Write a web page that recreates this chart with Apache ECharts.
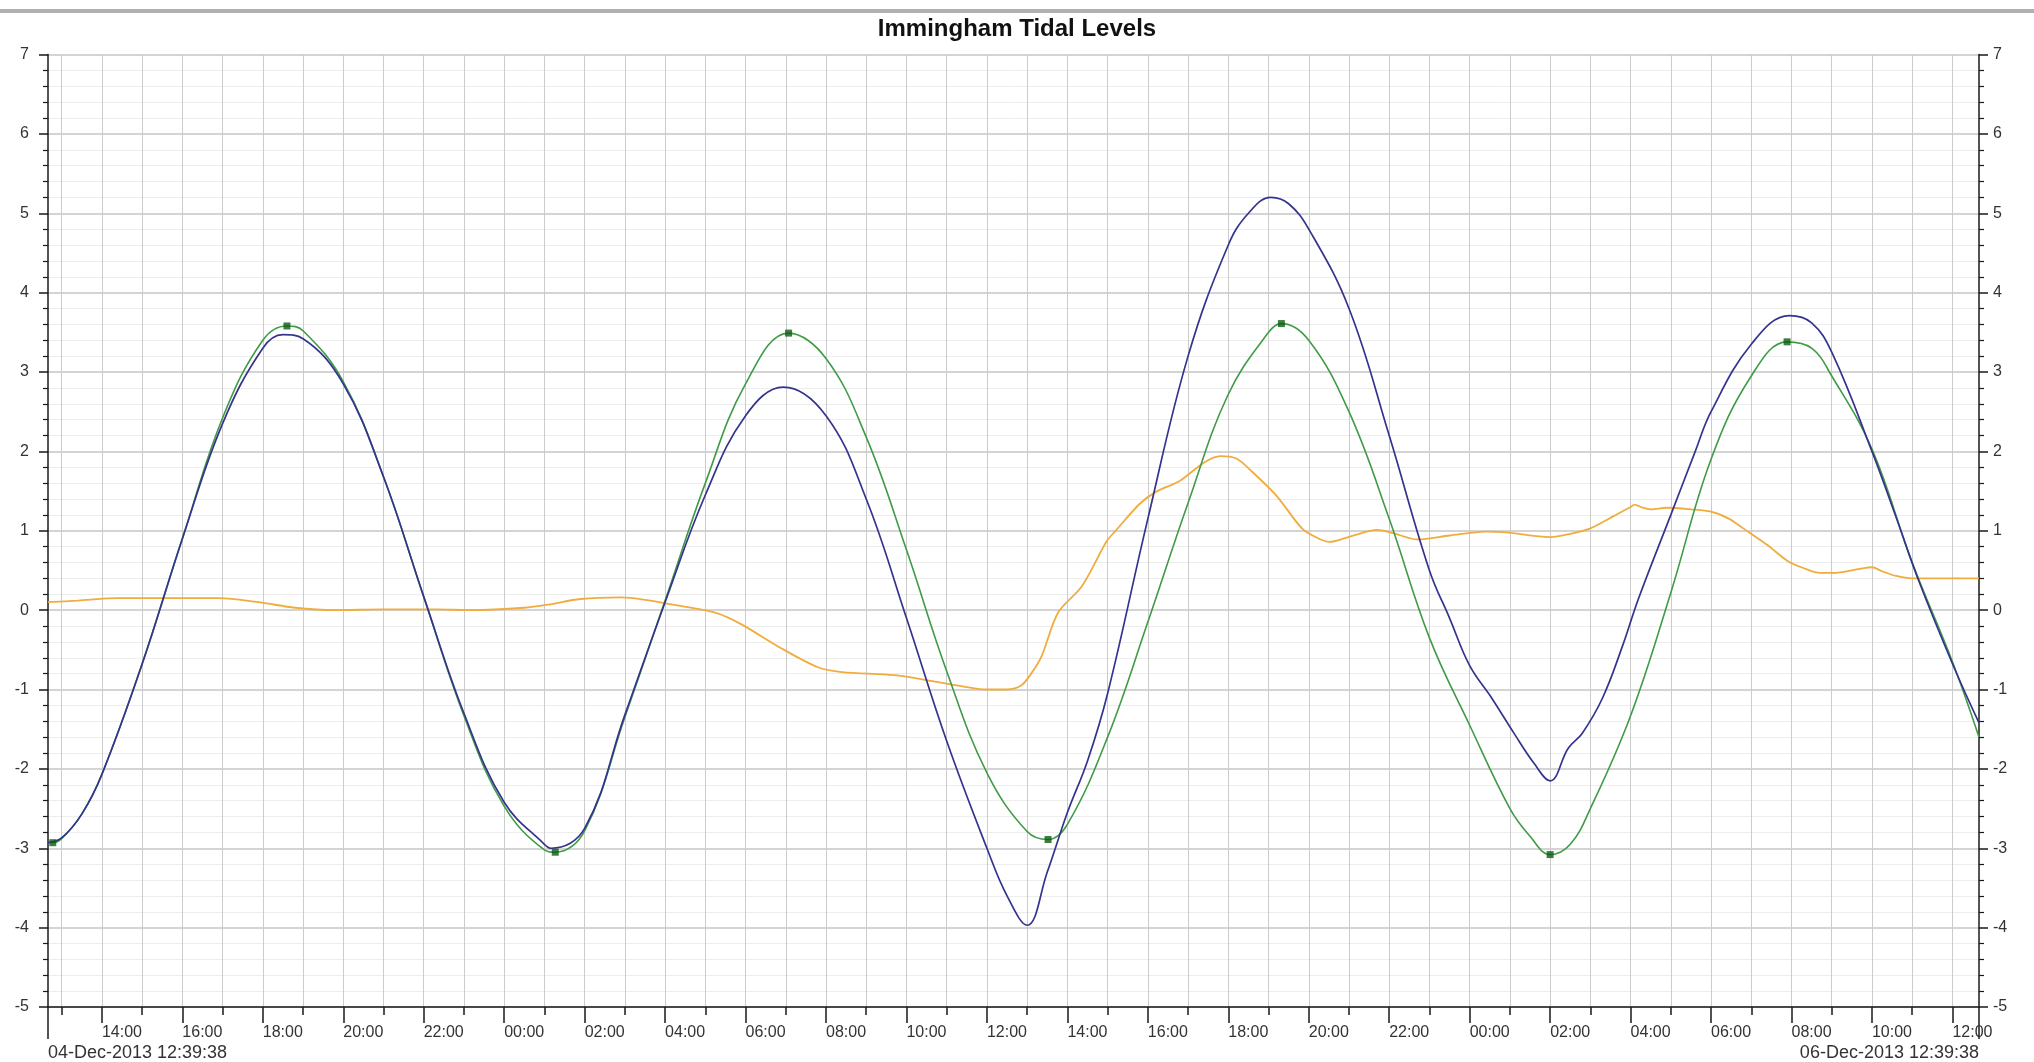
<!DOCTYPE html>
<html>
<head>
<meta charset="utf-8">
<title>Immingham Tidal Levels</title>
<script src="https://cdn.jsdelivr.net/npm/echarts@6/dist/echarts.min.js"></script>
<style>
  html, body { margin: 0; padding: 0; background: #ffffff; }
  #chart { width: 2034px; height: 1062px; }
</style>
</head>
<body>
<div id="chart"></div>
<script>
// Hours counted from 04-Dec-2013 00:00
const startHour = 12.6606;   // 04-Dec-2013 12:39:38
const endHour = 60.6606;     // 06-Dec-2013 12:39:38
const rangeLabels = ['04-Dec-2013 12:39:38', '06-Dec-2013 12:39:38'];
const chartTitle = 'Immingham Tidal Levels';

const gridHours = [13,14,15,16,17,18,19,20,21,22,23,24,25,26,27,28,29,30,31,32,33,34,35,36,
                   37,38,39,40,41,42,43,44,45,46,47,48,49,50,51,52,53,54,55,56,57,58,59,60];
const labelHours = [14,16,18,20,22,24,26,28,30,32,34,36,38,40,42,44,46,48,50,52,54,56,58,60];
const timeLabels = ['14:00','16:00','18:00','20:00','22:00','00:00','02:00','04:00','06:00','08:00',
                    '10:00','12:00','14:00','16:00','18:00','20:00','22:00','00:00','02:00','04:00',
                    '06:00','08:00','10:00','12:00'];

// Predicted tide (green)
const predictedTimes = [12.6606,12.78,13,13.5,14,15,16,17,18,18.6,19,20,21,22,23,24,25,25.27,26,27,28,29,30,31.07,
                        32,33,34,35,36,37,37.52,38,39,40,41,42,43,43.32,44,45,46,47,48,49,49.5,50.0,50.5,
                        51,52,53,54,55,55.89,56.5,57,58,59,60,60.6606];
const predictedLevels = [-2.92,-2.93,-2.88,-2.57,-2.07,-0.68,0.9,2.42,3.4,3.58,3.52,2.88,1.68,0.17,-1.33,-2.47,-3.02,-3.05,
                         -2.78,-1.35,0.12,1.6,2.85,3.49,3.17,2.18,0.76,-0.77,-2.05,-2.79,-2.89,-2.7,-1.6,-0.15,
                         1.35,2.72,3.5,3.61,3.4,2.5,1.15,-0.35,-1.45,-2.5,-2.85,-3.08,-2.95,-2.5,-1.33,0.22,1.9,
                         2.95,3.38,3.3,2.95,2.03,0.6,-0.65,-1.6];

// Observed level (blue)
const observedTimes = [12.6606,13,13.5,14,15,16,17,18,18.5,19,20,21,22,23,24,25,25.17,26,27,28,29,30,30.94,32,33,34,35,
                       36,36.5,37.0,37.5,38,38.5,39,40,41,42,42.5,43.06,43.5,44,45,46,47,47.5,48,48.55,49.1,49.6,
                       50.0,50.45,50.8,51.3,51.8,52.2,53,53.6,54,55,55.95,56.5,57,58,58.6,59.17,60.03,60.6606];
const observedLevels = [-2.93,-2.87,-2.57,-2.07,-0.68,0.9,2.35,3.3,3.47,3.42,2.85,1.68,0.17,-1.3,-2.42,-2.95,-3.0,-2.75,
                        -1.32,0.1,1.45,2.45,2.81,2.45,1.4,-0.1,-1.65,-3.0,-3.6,-3.97,-3.3,-2.55,-1.9,-1.05,1.15,
                        3.2,4.6,5.0,5.2,5.12,4.8,3.8,2.2,0.5,-0.1,-0.7,-1.11,-1.55,-1.93,-2.15,-1.74,-1.55,-1.11,
                        -0.45,0.15,1.2,1.99,2.5,3.35,3.71,3.62,3.25,2.0,1.17,0.36,-0.71,-1.42];

// Surge / residual (orange)
const surgeTimes = [12.6606,13.4,14.4,15.6,16.9,17.9,18.8,19.8,21.0,22.3,23.2,24.5,25.1,25.9,26.9,27.5,28.3,29.3,29.9,
                    30.85,31.8,32.4,33.7,34.7,35.4,36.0,36.5,36.85,37.1,37.36,37.77,38.36,38.98,39.2,39.8,40.2,40.8,
                    41.4,41.8,42.2,42.6,43.2,43.85,44.3,44.5,45.1,45.7,46.1,46.7,47.5,48.4,48.9,50.0,50.5,51.0,51.6,
                    52.0,52.1,52.3,52.5,52.9,53.5,54.0,54.45,54.8,55.4,55.9,56.35,56.7,57.1,57.7,58.0,58.25,58.6,
                    59.0,59.6,60.6606];
const surgeLevels = [0.10,0.12,0.15,0.15,0.15,0.10,0.03,0.00,0.01,0.01,0.00,0.03,0.07,0.14,0.16,0.13,0.06,-0.04,-0.18,
                     -0.47,-0.72,-0.78,-0.82,-0.90,-0.96,-1.0,-1.0,-0.95,-0.8,-0.58,-0.03,0.30,0.87,1.0,1.34,1.49,1.63,
                     1.86,1.94,1.91,1.74,1.44,1.02,0.89,0.86,0.94,1.01,0.97,0.89,0.94,0.99,0.98,0.92,0.96,1.03,1.19,
                     1.30,1.33,1.29,1.27,1.29,1.27,1.24,1.15,1.03,0.82,0.62,0.52,0.47,0.47,0.52,0.54,0.49,0.43,
                     0.40,0.40,0.40];

// Predicted high / low water points
const extremeTimes = [12.78,18.6,25.27,31.07,37.52,43.32,50.0,55.89];
const extremeLevels = [-2.93,3.58,-3.05,3.49,-2.89,3.61,-3.08,3.38];

const pairs = (xs, ys) => xs.map((x, i) => [x, ys[i]]);

const FONT = '"Liberation Sans", Arial, sans-serif';
const TEXT = '#333333';
const AXIS = '#1a1a1a';

const chart = echarts.init(document.getElementById('chart'), null, { renderer: 'canvas' });

const baseX = {
  type: 'value', min: startHour, max: endHour, position: 'bottom', gridIndex: 0
};

chart.setOption({
  animation: false,
  backgroundColor: '#ffffff',
  title: {
    text: chartTitle, left: 'center', top: 12,
    textStyle: { fontFamily: FONT, fontSize: 24, fontWeight: 'bold', color: '#111111' }
  },
  graphic: [{
    type: 'rect', left: 0, top: 9, shape: { width: 2034, height: 4 },
    style: { fill: '#b0b0b0' }, silent: true
  }],
  grid: { left: 48, right: 55, top: 54.5, bottom: 55, containLabel: false },
  xAxis: [
    Object.assign({}, baseX, {
      axisLine: { show: true, onZero: false, lineStyle: { color: AXIS, width: 1.5 } },
      axisTick: { show: true, customValues: gridHours, length: 8, lineStyle: { color: AXIS, width: 1.5 } },
      axisLabel: { show: false },
      splitLine: { show: true, lineStyle: { color: '#cbcbcb', width: 1 } }
    }),
    Object.assign({}, baseX, {
      axisLine: { show: false, onZero: false },
      axisTick: { show: true, customValues: labelHours, length: 16, lineStyle: { color: AXIS, width: 1.5 } },
      axisLabel: {
        show: true, customValues: labelHours, align: 'left', margin: 18,
        fontFamily: FONT, fontSize: 16, color: TEXT,
        formatter: (v) => timeLabels[labelHours.indexOf(Math.round(v))]
      },
      splitLine: { show: false }
    }),
    Object.assign({}, baseX, {
      axisLine: { show: false, onZero: false },
      axisTick: { show: true, customValues: [startHour], length: 32, lineStyle: { color: AXIS, width: 1.5 } },
      axisLabel: {
        show: true, customValues: [startHour], align: 'left', margin: 37,
        fontFamily: FONT, fontSize: 18, color: TEXT, formatter: () => rangeLabels[0]
      },
      splitLine: { show: false }
    }),
    Object.assign({}, baseX, {
      axisLine: { show: false, onZero: false },
      axisTick: { show: true, customValues: [endHour], length: 32, lineStyle: { color: AXIS, width: 1.5 } },
      axisLabel: {
        show: true, customValues: [endHour], align: 'right', margin: 37,
        fontFamily: FONT, fontSize: 18, color: TEXT, formatter: () => rangeLabels[1]
      },
      splitLine: { show: false }
    })
  ],
  yAxis: [
    {
      type: 'value', min: -5, max: 7, interval: 1, position: 'left',
      axisLine: { show: true, onZero: false, lineStyle: { color: AXIS, width: 1.5 } },
      axisTick: { show: true, length: 9, lineStyle: { color: AXIS, width: 1.5 } },
      minorTick: { show: true, splitNumber: 5, length: 5, lineStyle: { color: AXIS, width: 1.2 } },
      axisLabel: { margin: 19, fontFamily: FONT, fontSize: 16, color: TEXT },
      splitLine: { show: true, lineStyle: { color: '#c6c6c6', width: 1.5 } },
      minorSplitLine: { show: true, lineStyle: { color: '#ededed', width: 1 } }
    },
    {
      type: 'value', min: -5, max: 7, interval: 1, position: 'right',
      axisLine: { show: true, onZero: false, lineStyle: { color: AXIS, width: 1.5 } },
      axisTick: { show: true, length: 9, lineStyle: { color: AXIS, width: 1.5 } },
      minorTick: { show: true, splitNumber: 5, length: 5, lineStyle: { color: AXIS, width: 1.2 } },
      axisLabel: { margin: 14, fontFamily: FONT, fontSize: 16, color: TEXT },
      splitLine: { show: false },
      minorSplitLine: { show: false }
    }
  ],
  series: [
    {
      name: 'Surge', type: 'line', data: pairs(surgeTimes, surgeLevels),
      smooth: 0.3, showSymbol: false, symbol: 'none',
      lineStyle: { color: '#f0ad3e', width: 1.8 }, z: 2
    },
    {
      name: 'Predicted', type: 'line', data: pairs(predictedTimes, predictedLevels),
      smooth: 0.4, showSymbol: false, symbol: 'none',
      lineStyle: { color: '#3f9b45', width: 1.6 }, z: 3
    },
    {
      name: 'Observed', type: 'line', data: pairs(observedTimes, observedLevels),
      smooth: 0.4, showSymbol: false, symbol: 'none',
      lineStyle: { color: '#34348f', width: 1.7 }, z: 4
    },
    {
      name: 'High/Low', type: 'scatter', data: pairs(extremeTimes, extremeLevels),
      symbol: 'rect', symbolSize: 7, itemStyle: { color: '#0c5c12' }, z: 5
    }
  ]
});
</script>
</body>
</html>
